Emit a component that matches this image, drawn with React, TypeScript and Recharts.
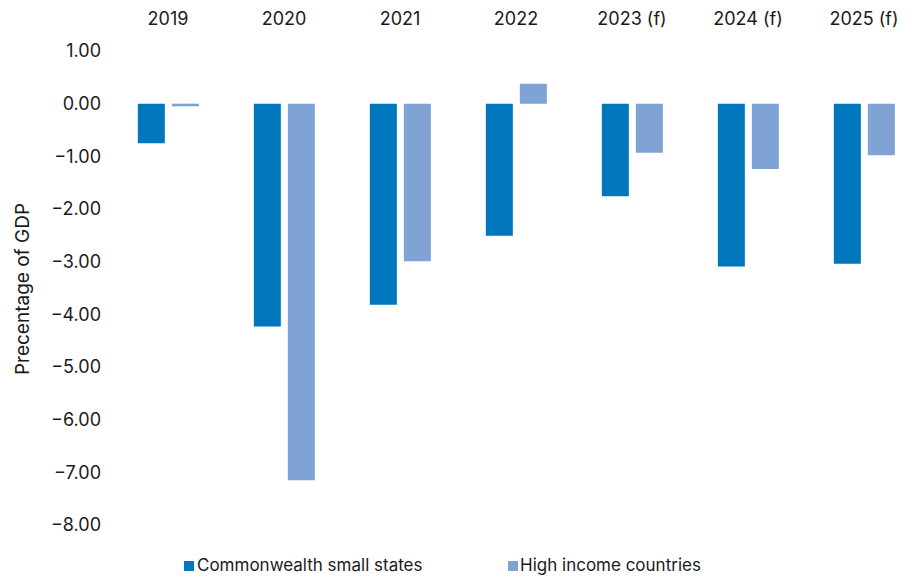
import React from 'react';
import { BarChart, Bar, XAxis, YAxis, Legend } from 'recharts';

const categories = ['2019', '2020', '2021', '2022', '2023 (f)', '2024 (f)', '2025 (f)'];
const smallStates = [-0.75, -4.23, -3.82, -2.51, -1.76, -3.09, -3.04];
const highIncome = [-0.05, -7.15, -2.99, 0.38, -0.93, -1.24, -0.98];
const yTicks = [1, 0, -1, -2, -3, -4, -5, -6, -7, -8];

const SERIES_A = 'Commonwealth small states';
const SERIES_B = 'High income countries';
const COLOR_A = '#0076BD';
const COLOR_B = '#7EA3D4';
const FONT = 'Inter, "Noto Sans", sans-serif';

const data = categories.map((c, i) => ({ name: c, a: smallStates[i], b: highIncome[i] }));

const fmt = (v: number) => (v < 0 ? '\u2212' + Math.abs(v).toFixed(2) : v.toFixed(2));

const YLabel = (props: any) => {
  const vb = props.viewBox || { y: 43, height: 474 };
  const cy = vb.y + vb.height / 2 + 1;
  const x = 14;
  return (
    <text
      x={x}
      y={cy}
      transform={`rotate(-90, ${x}, ${cy})`}
      textAnchor="middle"
      dominantBaseline="central"
      fontFamily={FONT}
      fontSize={19}
      fill="#1a1a1a"
    >
      Precentage of GDP
    </text>
  );
};

const LegendContent = () => (
  <div style={{ position: 'relative', height: 51, width: 920, fontFamily: FONT, fontSize: 17, color: '#1a1a1a' }}>
    <div style={{ position: 'absolute', left: 176, top: 36, width: 10, height: 10, background: COLOR_A }} />
    <div style={{ position: 'absolute', left: 189, top: 29, lineHeight: '22px', whiteSpace: 'nowrap' }}>{SERIES_A}</div>
    <div style={{ position: 'absolute', left: 500, top: 36, width: 10, height: 10, background: COLOR_B }} />
    <div style={{ position: 'absolute', left: 512, top: 29, lineHeight: '22px', whiteSpace: 'nowrap' }}>{SERIES_B}</div>
  </div>
);

export default function App() {
  return (
    <div style={{ position: 'fixed', left: 0, top: 0, width: 908, height: 576, overflow: 'hidden', background: '#ffffff' }}>
      <div style={{ position: 'absolute', left: 8, top: 8 }}>
        <BarChart
          width={920}
          height={568}
          data={data}
          margin={{ top: 0, right: 6, bottom: 0, left: 0 }}
          barCategoryGap="24%"
          barGap={7}
        >
          <XAxis
            dataKey="name"
            orientation="top"
            height={43}
            axisLine={false}
            tickLine={false}
            tickSize={6}
            tickMargin={20}
            interval={0}
            tick={{ fontFamily: FONT, fontSize: 18, fill: '#1a1a1a' }}
          />
          <YAxis
            width={102}
            domain={[-8, 1]}
            ticks={yTicks}
            interval={0}
            axisLine={false}
            tickLine={false}
            tickSize={7}
            tickMargin={2}
            tickFormatter={fmt}
            tick={{ fontFamily: FONT, fontSize: 18, fill: '#1a1a1a' }}
            label={<YLabel />}
          />
          <Legend verticalAlign="bottom" wrapperStyle={{ left: 0, width: 920 }} content={<LegendContent />} />
          <Bar dataKey="a" name={SERIES_A} fill={COLOR_A} isAnimationActive={false} />
          <Bar dataKey="b" name={SERIES_B} fill={COLOR_B} isAnimationActive={false} />
        </BarChart>
      </div>
    </div>
  );
}
